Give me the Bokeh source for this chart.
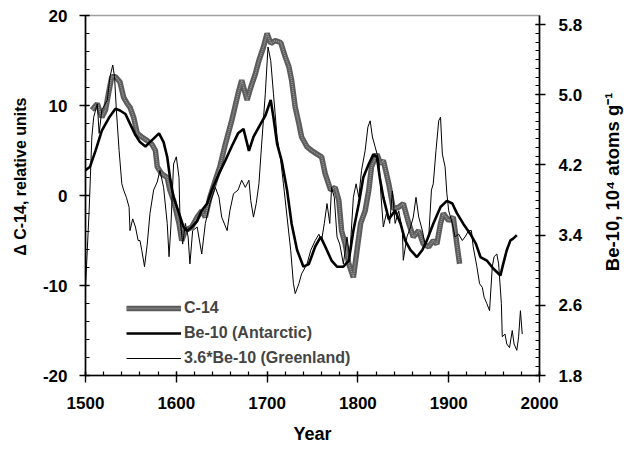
import numpy as np
from bokeh.plotting import figure
from bokeh.layouts import row
from bokeh.models import (Range1d, LinearAxis, FixedTicker, Title, Legend,
                          LegendItem, NumeralTickFormatter)
from bokeh.core.properties import value
from bokeh.embed import file_html
from bokeh.resources import INLINE

# ---------------- data ----------------
c14_year = [1507, 1513, 1518, 1522, 1526, 1529, 1533, 1538, 1542, 1546, 1549, 1553,
            1557, 1562, 1568, 1573, 1577, 1579, 1584, 1590, 1593, 1597, 1603, 1606,
            1610, 1617, 1623, 1628, 1632, 1637, 1643, 1648, 1654, 1661, 1668, 1672,
            1678, 1682, 1687, 1691, 1696, 1700, 1704, 1709, 1715, 1720, 1724, 1727,
            1731, 1735, 1738, 1744, 1749, 1755, 1760, 1764, 1770, 1775, 1779, 1782,
            1786, 1790, 1795, 1799, 1803, 1808, 1812, 1815, 1821, 1825, 1828, 1834,
            1839, 1845, 1850, 1856, 1861, 1867, 1872, 1878, 1883, 1887, 1891, 1894,
            1900, 1905, 1909, 1912]
c14_val = [9.5, 10.2, 8.7, 9.5, 11.7, 13.2, 13.2, 12.6, 10.9, 10.2, 9.8, 8.7,
           6.9, 6.5, 6.1, 5.7, 5.0, 3.2, 2.4, 2.0, 0.6, -0.55, -3.1, -5.0,
           -3.9, -3.5, -2.4, -1.7, -2.4, -0.2, 1.7, 3.2, 5.7, 8.3, 11.3, 12.8,
           10.6, 12.0, 13.5, 15.0, 16.5, 18.0, 16.9, 17.2, 17.0, 15.4, 14.3, 12.8,
           9.8, 8.0, 6.5, 5.4, 5.0, 4.6, 4.3, 2.4, 0.6, 0.9, -0.55, -3.9,
           -5.4, -7.6, -9.1, -6.1, -3.1, -1.7, 0.6, 3.2, 4.6, 3.5, 3.9, 1.3,
           -1.5, -1.3, -0.9, -3.1, -4.6, -3.9, -5.4, -5.7, -5.0, -5.4, -3.1, -2.0,
           -2.8, -2.4, -5.4, -7.6]

# Be-10 Antarctic, in 10^4 atoms/g (right axis)
ant_year = [1500, 1505, 1511, 1518, 1526, 1533, 1538, 1544, 1549, 1555, 1560, 1566,
            1571, 1577, 1581, 1586, 1590, 1593, 1597, 1603, 1608, 1612, 1617, 1623,
            1628, 1634, 1639, 1647, 1654, 1661, 1668, 1674, 1680, 1685, 1693, 1698,
            1704, 1707, 1711, 1716, 1722, 1727, 1733, 1740, 1746, 1753, 1759, 1764,
            1771, 1777, 1784, 1790, 1795, 1801, 1806, 1812, 1817, 1821, 1824, 1828,
            1834, 1841, 1847, 1852, 1858, 1865, 1871, 1876, 1883, 1891, 1898, 1904,
            1909, 1916, 1924, 1930, 1935, 1942, 1949, 1957, 1960, 1964, 1968, 1971,
            1975]
ant_val = [4.14, 4.18, 4.36, 4.59, 4.74, 4.84, 4.82, 4.78, 4.67, 4.54, 4.46, 4.41,
           4.46, 4.52, 4.56, 4.46, 4.29, 4.06, 3.83, 3.65, 3.49, 3.45, 3.49, 3.56,
           3.68, 3.76, 3.91, 4.10, 4.25, 4.41, 4.56, 4.61, 4.36, 4.52, 4.67, 4.76,
           4.94, 4.74, 4.44, 4.25, 3.91, 3.53, 3.23, 3.04, 3.07, 3.27, 3.38, 3.27,
           3.11, 3.04, 3.04, 3.11, 3.45, 3.76, 4.06, 4.21, 4.32, 4.29, 4.06, 3.83,
           3.58, 3.68, 3.53, 3.34, 3.23, 3.15, 3.23, 3.34, 3.53, 3.72, 3.79, 3.76,
           3.65, 3.53, 3.41, 3.30, 3.15, 3.11, 3.02, 2.94, 3.07, 3.23, 3.34, 3.36,
           3.40]

# 3.6*Be-10 Greenland (left-axis units)
grn_year = [1500, 1504, 1507, 1509, 1513, 1515, 1518, 1524, 1527, 1530, 1532, 1534,
            1537, 1540, 1542, 1545, 1548, 1549, 1552, 1555, 1558, 1560, 1562, 1565,
            1568, 1571, 1575, 1579, 1582, 1586, 1590, 1592, 1594, 1597, 1600, 1603,
            1604, 1607, 1610, 1613, 1615, 1618, 1623, 1628, 1632, 1637, 1643, 1647,
            1650, 1656, 1659, 1663, 1668, 1672, 1676, 1680, 1682, 1685, 1688, 1691,
            1694, 1698, 1701, 1704, 1707, 1711, 1715, 1718, 1722, 1726, 1729, 1731,
            1735, 1738, 1744, 1748, 1753, 1757, 1760, 1763, 1766, 1769, 1771, 1774,
            1777, 1780, 1784, 1788, 1791, 1795, 1798, 1801, 1804, 1808, 1811, 1813.5,
            1816, 1819, 1823, 1825, 1828, 1832, 1835, 1838, 1841, 1845, 1849, 1850,
            1854, 1858, 1861, 1864, 1867, 1871, 1874, 1878, 1881, 1883, 1886, 1889,
            1891, 1893, 1896, 1898, 1900, 1904, 1907, 1911, 1915, 1918, 1922, 1925,
            1927, 1931, 1934, 1937, 1939, 1942, 1945, 1948, 1950, 1953, 1955, 1958,
            1959, 1962, 1964, 1967, 1970, 1972, 1975, 1977, 1979, 1981]
grn_val = [-10.2, -1.7, 6.5, 8.7, 10.2, 6.9, 9.5, 10.6, 13.2, 14.5, 13.2, 9.5,
           5.0, 1.3, 0.6, -0.2, -1.3, -3.9, -2.6, -3.5, -5.0, -5.0, -6.1, -7.9,
           -5.4, -2.0, 0.6, 1.5, 2.8, 0.9, -3.1, -6.8, -3.5, 3.5, 4.3, 2.0,
           -2.4, -5.4, -3.1, -4.6, -7.6, -3.9, -3.5, -6.5, -3.1, -0.9, 0.9, -0.2,
           -2.4, -3.9, -1.7, 0.2, 0.6, 1.7, 0.9, 1.7, -0.55, -2.4, -0.9, 1.3,
           5.7, 11.3, 16.5, 15.0, 11.3, 6.5, 3.9, 1.3, -2.4, -6.1, -9.8, -10.9,
           -9.8, -8.7, -7.6, -6.1, -5.0, -4.3, -5.0, -3.1, -0.9, -3.1, 0.9, -0.2,
           -4.6, -5.4, -7.6, -4.6, -6.8, -0.2, 1.3, -0.2, 2.8, 5.0, 7.6, 8.3,
           6.5, 5.4, 3.9, 0.6, -3.5, -1.7, -3.1, 0.5, -3.1, -1.7, -3.9, -7.2,
           -4.6, -3.5, -2.4, -0.2, -2.4, -3.9, -5.4, -4.6, 0.6, 1.3, 5.0, 8.3,
           8.7, 4.6, 3.2, 0.2, -1.7, -3.1, -4.6, -4.3, -5.0, -4.6, -3.9, -3.9,
           -5.7, -7.9, -9.8, -10.2, -11.3, -12.0, -12.8, -7.9, -6.8, -6.5, -7.6, -12.0,
           -15.7, -15.4, -16.5, -16.9, -15.0, -16.5, -17.2, -15.7, -12.8, -15.4]

x_ticks = [1500, 1600, 1700, 1800, 1900, 2000]
left_ticks = [-20, -10, 0, 10, 20]
right_ticks = [1.8, 2.6, 3.4, 4.2, 5.0, 5.8]

FONT = "Liberation Sans"

# ---------------- main figure ----------------
p = figure(width=596, height=450, output_backend="svg", toolbar_location=None,
           x_range=Range1d(1500, 2000), y_range=Range1d(-20, 20),
           min_border_left=84, min_border_right=57, min_border_top=15,
           min_border_bottom=75)
p.extra_y_ranges = {"be": Range1d(1.8, 5.9026)}
p.xgrid.visible = False
p.ygrid.visible = False
p.outline_line_color = "#a0a0a0"
p.outline_line_width = 1.5
p.background_fill_color = "white"
p.border_fill_color = "white"


def style_axis(ax):
    ax.axis_line_color = "black"
    ax.axis_line_width = 1.6
    ax.major_tick_line_color = "black"
    ax.minor_tick_line_color = "black"
    ax.major_tick_line_width = 1.4
    ax.minor_tick_line_width = 1.2
    ax.major_tick_in = 4
    ax.major_tick_out = 6
    ax.minor_tick_in = 4
    ax.minor_tick_out = 0
    ax.major_label_text_font = FONT
    ax.major_label_text_font_style = "bold"
    ax.major_label_text_font_size = "17px"
    ax.major_label_text_color = "black"


xa = p.xaxis[0]
style_axis(xa)
xa.ticker = FixedTicker(ticks=x_ticks, minor_ticks=list(range(1500, 2001, 20)))
xa.major_tick_out = 7
xa.major_label_standoff = 14
xa.axis_label = "Year"
xa.axis_label_standoff = 12
xa.axis_label_text_font = FONT
xa.axis_label_text_font_style = "bold"
xa.axis_label_text_font_size = "18px"
xa.axis_label_text_color = "black"

ya = p.yaxis[0]
style_axis(ya)
ya.ticker = FixedTicker(ticks=left_ticks, minor_ticks=list(range(-20, 21, 2)))
ya.formatter = NumeralTickFormatter(format="0")
ya.major_label_standoff = 12

ra = LinearAxis(y_range_name="be")
style_axis(ra)
ra.ticker = FixedTicker(ticks=right_ticks,
                        minor_ticks=[round(1.8 + 0.1 * i, 2) for i in range(41)])
ra.formatter = NumeralTickFormatter(format="0.0")
ra.major_label_standoff = 13
p.add_layout(ra, "right")

# left axis title (side title so it can sit above centre)
p.add_layout(Title(text="\u0394 C-14, relative units", align="right", offset=82,
                   standoff=20, vertical_align="middle", text_font=FONT,
                   text_font_style="bold", text_font_size="16px",
                   text_color="black"), "left")

# ---------------- series ----------------
c1 = p.line(c14_year, c14_val, line_color="#5c5c5c", line_width=5.5)
c2 = p.line(c14_year, c14_val, line_color="#9c9c9c", line_width=1.5, line_dash="1 1")
g = p.line(grn_year, grn_val, line_color="black", line_width=1)
a = p.line(ant_year, ant_val, line_color="black", line_width=2.6, y_range_name="be")

legend = Legend(items=[LegendItem(label="C-14", renderers=[c1, c2]),
                       LegendItem(label="Be-10 (Antarctic)", renderers=[a]),
                       LegendItem(label="3.6*Be-10 (Greenland)", renderers=[g])],
                location=(41, 7), padding=0, margin=0, spacing=5,
                glyph_width=55, glyph_height=20, label_height=20, label_standoff=3,
                label_text_font=FONT, label_text_font_style="bold",
                label_text_font_size="16px", background_fill_alpha=0,
                border_line_alpha=0)
p.add_layout(legend, "center")

# ---------------- right-hand title strip ----------------
side = figure(width=28, height=450, output_backend="svg", toolbar_location=None,
              x_range=Range1d(0, 28), y_range=Range1d(0, 450),
              min_border=0, min_border_left=0, min_border_right=0,
              min_border_top=0, min_border_bottom=0, title=None)
side.axis.visible = False
side.grid.visible = False
side.outline_line_color = None
side.background_fill_color = "white"
side.border_fill_color = "white"
side.text(x=[16], y=[242], text=["Be-10, 10\u2074 atoms g\u207b\u00b9"],
          angle=np.pi / 2, text_align="center", text_baseline="middle",
          text_font=value(FONT), text_font_style="bold", text_font_size="18.5px",
          text_color="black")

layout = row(p, side, spacing=0)
open("out.html", "w").write(file_html(layout, INLINE))
